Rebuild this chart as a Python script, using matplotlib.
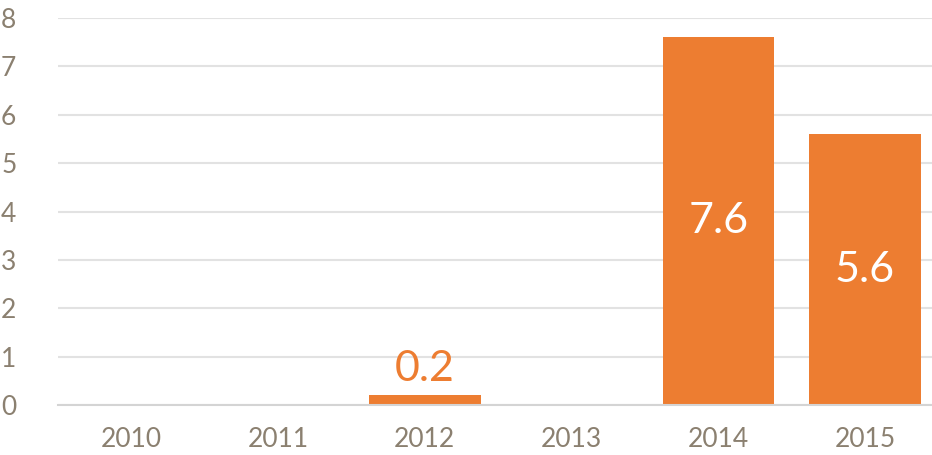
import matplotlib
matplotlib.use("Agg")
import matplotlib.pyplot as plt

# data
years = ["2010", "2011", "2012", "2013", "2014", "2015"]
values = [0, 0, 0.2, 0, 7.6, 5.6]
labels = ["", "", "0.2", "", "7.6", "5.6"]

orange = "#ED7D31"
text_col = "#8B8070"

plt.rcParams["font.family"] = ["Lato", "DejaVu Sans"]

fig = plt.figure(figsize=(9.32, 4.55), dpi=100)
ax = fig.add_axes([58/932, 50/455, 1 - 58/932, 387/455])

x = range(len(years))
bars = ax.bar(x, values, width=0.76, color=orange, zorder=3)

for i, (b, v, lab) in enumerate(zip(bars, values, labels)):
    if not lab:
        continue
    if v < 1:
        ax.text(b.get_x() + b.get_width()/2, v + 0.15, lab, ha="center", va="bottom",
                color=orange, fontsize=31)
    else:
        ax.text(b.get_x() + b.get_width()/2, v/2, lab, ha="center", va="center",
                color="white", fontsize=31)

ax.set_ylim(0, 8)
ax.set_xlim(-0.5, 5.456)
ax.set_yticks(range(0, 9))
ax.set_xticks(list(x))
ax.set_xticklabels(years)
ax.tick_params(axis="both", length=0, labelsize=19, labelcolor=text_col)
ax.tick_params(axis="y", pad=30)
ax.tick_params(axis="x", pad=16)
ax.grid(axis="y", color="#E2E2E2", linewidth=1.5, zorder=0)
for s in ["top", "right", "left"]:
    ax.spines[s].set_visible(False)
ax.spines["bottom"].set_color("#D4D4D4")
ax.spines["bottom"].set_linewidth(1.5)
ax.spines["bottom"].set_zorder(4)

fig.savefig("out.png", dpi=100)
